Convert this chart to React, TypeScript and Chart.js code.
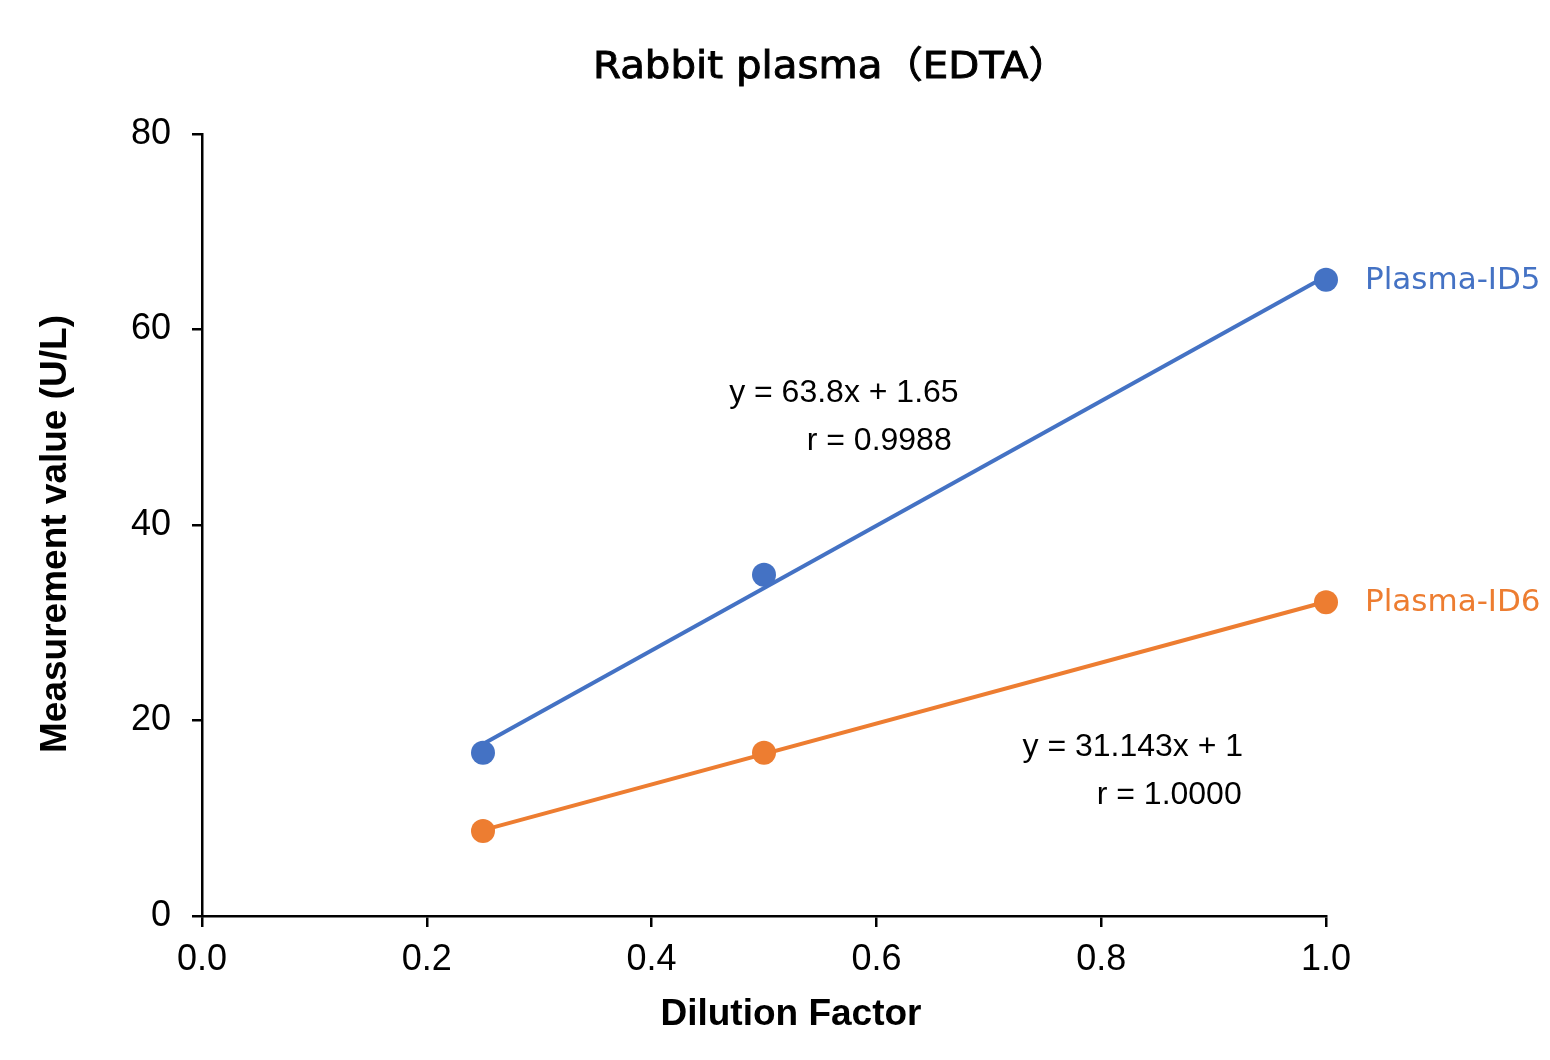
import React, { useEffect, useRef } from "react";
import { Chart, registerables } from "chart.js";

Chart.register(...registerables);

// Measured values per dilution step
const dilutionFactors = [0.25, 0.5, 1.0];
const plasmaId5Values = [16.7, 34.9, 65.1];
const plasmaId6Values = [8.7, 16.7, 32.1];
const seriesNames = ["Plasma-ID5", "Plasma-ID6"];
const seriesColors = ["#4472C4", "#ED7D31"];

// Linear fits (y = slope * x + intercept) and correlation labels
const fitSlopes = [63.8, 31.143];
const fitIntercepts = [1.65, 1];
const fitLabels = ["y = 63.8x + 1.65", "y = 31.143x + 1"];
const rLabels = ["r = 0.9988", "r = 1.0000"];

// Axes
const xTickValues = [0, 0.2, 0.4, 0.6, 0.8, 1.0];
const yTickValues = [0, 20, 40, 60, 80];
const chartTitle = "Rabbit plasma（EDTA）";
const xAxisTitle = "Dilution Factor";
const yAxisTitle = "Measurement value (U/L)";

const W = 1550;
const H = 1060;
const PLOT_LEFT = 202;
const PLOT_RIGHT = 1326;
const PLOT_TOP = 134;
const PLOT_BOTTOM = 916;

const ARIAL = "'Liberation Sans', Arial, sans-serif";
const UI_FONT = "'DejaVu Sans', 'Noto Sans CJK JP', sans-serif";

const fitLine = (i: number) => {
  const xs = [Math.min(...dilutionFactors), Math.max(...dilutionFactors)];
  return xs.map((x) => ({ x, y: fitSlopes[i] * x + fitIntercepts[i] }));
};

// Text annotations anchored in data coordinates (left edge, vertical middle)
const fitLabelAnchors = [
  [{ x: 0.469, y: 53.5 }, { x: 0.538, y: 48.6 }],
  [{ x: 0.73, y: 17.3 }, { x: 0.796, y: 12.4 }],
];

const textPlugin = {
  id: "chartTexts",
  afterDraw(chart: any) {
    const ctx = chart.ctx as CanvasRenderingContext2D;
    const xs = chart.scales.x;
    const ys = chart.scales.y;
    ctx.save();
    ctx.textBaseline = "middle";

    // Title: a slightly widened, medium-weight face
    ctx.save();
    ctx.fillStyle = "#000";
    ctx.strokeStyle = "#000";
    ctx.lineWidth = 0.9;
    ctx.textAlign = "left";
    ctx.font = `37px ${UI_FONT}`;
    ctx.translate(593, 68);
    ctx.scale(1.09, 1);
    ctx.fillText(chartTitle, 0, 0);
    ctx.strokeText(chartTitle, 0, 0);
    ctx.restore();

    // Axis titles
    ctx.fillStyle = "#000";
    ctx.textAlign = "center";
    ctx.font = `bold 37px ${ARIAL}`;
    ctx.fillText(xAxisTitle, 791, 1015);
    ctx.save();
    ctx.translate(56, 534);
    ctx.rotate(-Math.PI / 2);
    ctx.fillText(yAxisTitle, 0, 0);
    ctx.restore();

    // Fit equations
    ctx.textAlign = "left";
    ctx.font = `32px ${ARIAL}`;
    ctx.fillStyle = "#000";
    fitLabelAnchors.forEach((pair, i) => {
      ctx.fillText(fitLabels[i], xs.getPixelForValue(pair[0].x), ys.getPixelForValue(pair[0].y));
      ctx.fillText(rLabels[i], xs.getPixelForValue(pair[1].x), ys.getPixelForValue(pair[1].y));
    });

    // Series names next to the last point of each series
    ctx.font = `31px ${UI_FONT}`;
    const lastX = dilutionFactors[dilutionFactors.length - 1];
    const lastVals = [
      plasmaId5Values[plasmaId5Values.length - 1],
      plasmaId6Values[plasmaId6Values.length - 1],
    ];
    seriesNames.forEach((name, i) => {
      ctx.fillStyle = seriesColors[i];
      ctx.fillText(name, xs.getPixelForValue(lastX) + 39, ys.getPixelForValue(lastVals[i]) + 1);
    });
    ctx.restore();
  },
};

export default function App() {
  const canvasRef = useRef<HTMLCanvasElement | null>(null);

  useEffect(() => {
    if (!canvasRef.current) return;
    const toPoints = (vals: number[]) => dilutionFactors.map((x, i) => ({ x, y: vals[i] }));

    const chart = new Chart(canvasRef.current, {
      type: "scatter",
      data: {
        datasets: [
          {
            label: seriesNames[0] + " fit",
            data: fitLine(0),
            showLine: true,
            borderColor: seriesColors[0],
            borderWidth: 4,
            pointRadius: 0,
            clip: false,
            order: 2,
          },
          {
            label: seriesNames[1] + " fit",
            data: fitLine(1),
            showLine: true,
            borderColor: seriesColors[1],
            borderWidth: 4,
            pointRadius: 0,
            clip: false,
            order: 2,
          },
          {
            label: seriesNames[0],
            data: toPoints(plasmaId5Values),
            backgroundColor: seriesColors[0],
            borderColor: seriesColors[0],
            borderWidth: 0,
            pointRadius: 12,
            clip: false,
            order: 1,
          },
          {
            label: seriesNames[1],
            data: toPoints(plasmaId6Values),
            backgroundColor: seriesColors[1],
            borderColor: seriesColors[1],
            borderWidth: 0,
            pointRadius: 12,
            clip: false,
            order: 1,
          },
        ],
      },
      options: {
        responsive: false,
        maintainAspectRatio: false,
        animation: false,
        devicePixelRatio: 1,
        layout: {
          padding: { left: 0, top: PLOT_TOP, right: W - PLOT_RIGHT, bottom: 0 },
        },
        plugins: {
          legend: { display: false },
          title: { display: false },
          tooltip: { enabled: false },
        },
        scales: {
          x: {
            type: "linear",
            min: 0,
            max: 1,
            afterBuildTicks: (scale: any) => {
              scale.ticks = xTickValues.map((v) => ({ value: v }));
            },
            afterFit: (scale: any) => {
              scale.height = H - PLOT_BOTTOM;
            },
            ticks: {
              color: "#000",
              font: { family: ARIAL, size: 36 },
              padding: 11,
              maxRotation: 0,
              autoSkip: false,
              callback: (v: any) => Number(v).toFixed(1),
            },
            grid: {
              display: true,
              drawOnChartArea: false,
              drawTicks: true,
              tickLength: 11,
              color: "#000",
              lineWidth: 2.5,
            },
            border: { display: true, color: "#000", width: 2.5 },
          },
          y: {
            type: "linear",
            min: 0,
            max: 80,
            afterBuildTicks: (scale: any) => {
              scale.ticks = yTickValues.map((v) => ({ value: v }));
            },
            afterFit: (scale: any) => {
              scale.width = PLOT_LEFT;
            },
            ticks: {
              color: "#000",
              font: { family: ARIAL, size: 36 },
              padding: 21,
              autoSkip: false,
              callback: (v: any) => String(v),
            },
            grid: {
              display: true,
              drawOnChartArea: false,
              drawTicks: true,
              tickLength: 10,
              color: "#000",
              lineWidth: 2.5,
            },
            border: { display: true, color: "#000", width: 2.5 },
          },
        },
      },
      plugins: [textPlugin],
    });

    return () => chart.destroy();
  }, []);

  return (
    <div
      style={{
        position: "absolute",
        left: 0,
        top: 0,
        width: W,
        height: H,
        background: "#fff",
      }}
    >
      <canvas ref={canvasRef} width={W} height={H} style={{ width: W, height: H }} />
    </div>
  );
}
